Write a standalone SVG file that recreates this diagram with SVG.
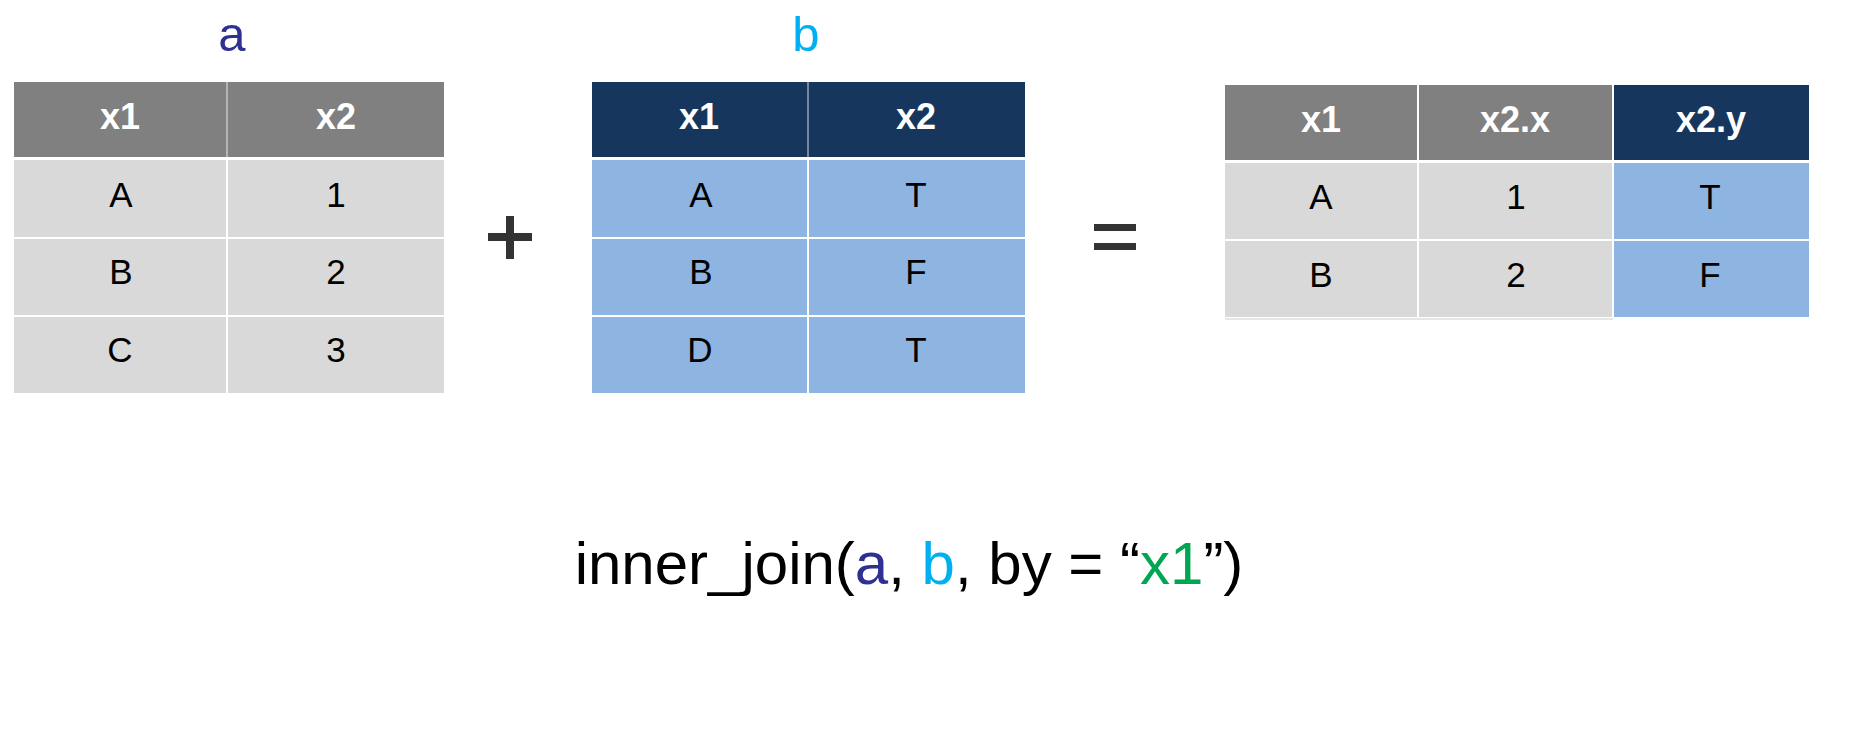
<svg xmlns="http://www.w3.org/2000/svg" width="1858" height="751" viewBox="0 0 1858 751">
<style>
.hdr{font-family:"Liberation Sans",Arial,sans-serif;font-weight:bold;font-size:36px;fill:#FFFFFF;text-anchor:middle}
.cell{font-family:"Liberation Sans",Arial,sans-serif;font-size:35px;fill:#000000;text-anchor:middle}
.lbl{font-family:"Liberation Sans",Arial,sans-serif;font-size:49px;text-anchor:middle}
.code{font-family:"Liberation Sans",Arial,sans-serif;font-size:60px;fill:#000000;text-anchor:middle}
.sep{stroke:#FFFFFF;stroke-width:2;fill:none}
.sepH{stroke:#FFFFFF;stroke-width:3;fill:none}
.sepV{stroke:#FFFFFF;stroke-opacity:0.55;stroke-width:1.5;fill:none}
.gH{fill:#808080}.gB{fill:#D9D9D9}.nH{fill:#17365D}.nB{fill:#8EB4E2}
.op{fill:#333333}
</style>
<g id="label-a"><text class="lbl" x="232" y="51" fill="#2E3192">a</text></g>
<g id="label-b"><text class="lbl" x="806" y="51" fill="#00B0F0">b</text></g>

<g id="table-a">
<rect class="gH" x="14" y="82" width="430" height="75"/>
<rect class="gB" x="14" y="157" width="430" height="236"/>
<line class="sepH" x1="14" y1="158.5" x2="444" y2="158.5"/>
<line class="sep" x1="14" y1="238" x2="444" y2="238"/>
<line class="sep" x1="14" y1="316" x2="444" y2="316"/>
<line class="sepV" x1="227" y1="82" x2="227" y2="157"/>
<line class="sep" x1="227" y1="157" x2="227" y2="393"/>
<text class="hdr" x="120" y="129">x1</text>
<text class="hdr" x="336" y="129">x2</text>
<text class="cell" x="121" y="207">A</text>
<text class="cell" x="336" y="207">1</text>
<text class="cell" x="121" y="284">B</text>
<text class="cell" x="336" y="284">2</text>
<text class="cell" x="120" y="362">C</text>
<text class="cell" x="336" y="362">3</text>
</g>

<g id="plus">
<rect class="op" x="488" y="233" width="44" height="8"/>
<rect class="op" x="506" y="216" width="8" height="43"/>
</g>

<g id="table-b">
<rect class="nH" x="592" y="82" width="433" height="75"/>
<rect class="nB" x="592" y="157" width="433" height="236"/>
<line class="sepH" x1="592" y1="158.5" x2="1025" y2="158.5"/>
<line class="sep" x1="592" y1="238" x2="1025" y2="238"/>
<line class="sep" x1="592" y1="316" x2="1025" y2="316"/>
<line class="sepV" x1="808" y1="82" x2="808" y2="157"/>
<line class="sep" x1="808" y1="157" x2="808" y2="393"/>
<text class="hdr" x="699" y="129">x1</text>
<text class="hdr" x="916" y="129">x2</text>
<text class="cell" x="701" y="207">A</text>
<text class="cell" x="916" y="207">T</text>
<text class="cell" x="701" y="284">B</text>
<text class="cell" x="916" y="284">F</text>
<text class="cell" x="700" y="362">D</text>
<text class="cell" x="916" y="362">T</text>
</g>

<g id="equals">
<rect class="op" x="1094" y="224" width="42" height="7"/>
<rect class="op" x="1094" y="243" width="42" height="7"/>
</g>

<g id="table-result">
<rect class="gH" x="1225" y="85" width="388" height="75"/>
<rect class="nH" x="1613" y="85" width="196" height="75"/>
<rect class="gB" x="1225" y="160" width="388" height="157"/>
<rect class="nB" x="1613" y="160" width="196" height="157"/>
<line x1="1225" y1="319" x2="1613" y2="319" stroke="#E6E6E6" stroke-width="2"/>
<line class="sepH" x1="1225" y1="161.5" x2="1809" y2="161.5"/>
<line class="sep" x1="1225" y1="240" x2="1809" y2="240"/>
<line class="sep" x1="1418" y1="85" x2="1418" y2="317"/>
<line class="sep" x1="1613" y1="85" x2="1613" y2="317"/>
<text class="hdr" x="1321" y="132">x1</text>
<text class="hdr" x="1515" y="132">x2.x</text>
<text class="hdr" x="1711" y="132">x2.y</text>
<text class="cell" x="1321" y="209">A</text>
<text class="cell" x="1516" y="209">1</text>
<text class="cell" x="1710" y="209">T</text>
<text class="cell" x="1321" y="287">B</text>
<text class="cell" x="1516" y="287">2</text>
<text class="cell" x="1710" y="287">F</text>
</g>

<g id="formula">
<text class="code" x="909" y="584">inner_join(<tspan fill="#2E3192">a</tspan>, <tspan fill="#00B0F0">b</tspan>, by = “<tspan fill="#00A651">x1</tspan>”)</text>
</g>
</svg>
